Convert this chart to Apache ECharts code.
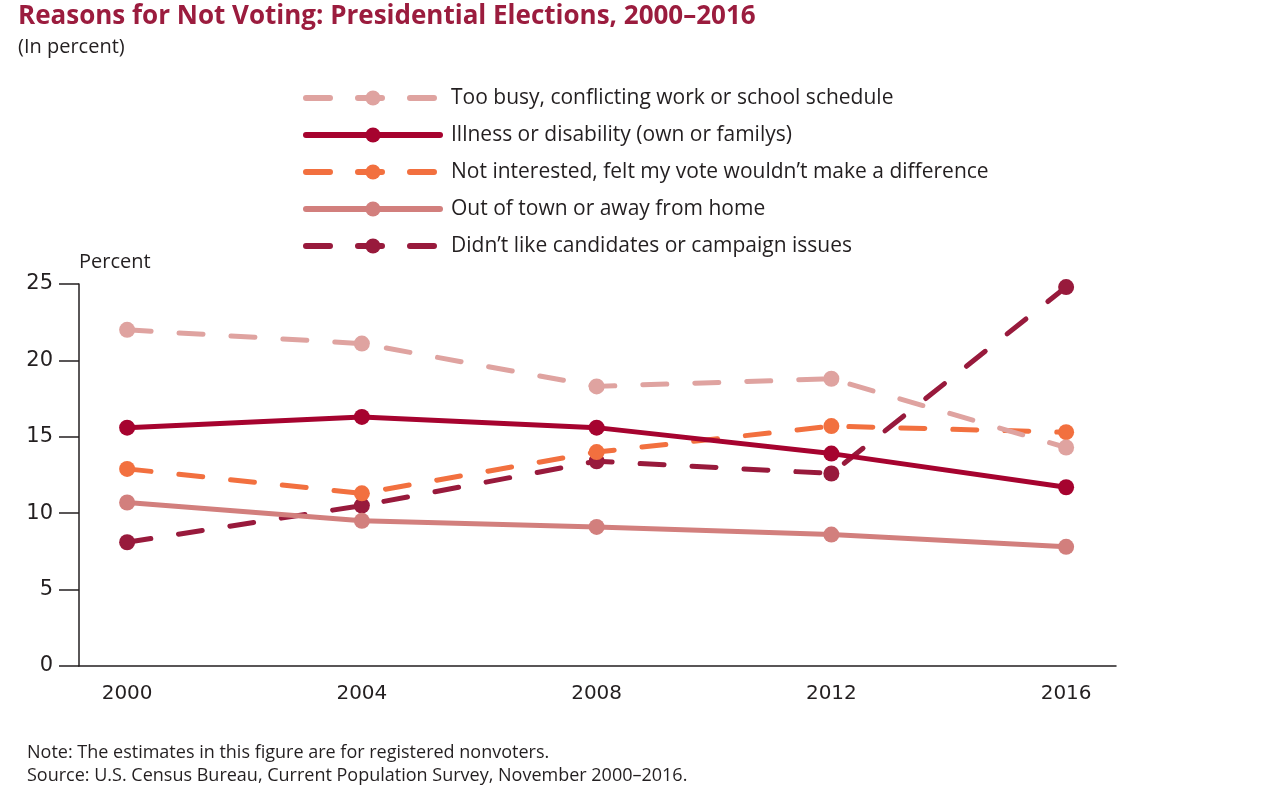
<!DOCTYPE html>
<html>
<head>
<meta charset="utf-8">
<script src="https://cdn.jsdelivr.net/npm/echarts@6/dist/echarts.min.js"></script>
<style>
  html, body { margin: 0; padding: 0; background: #fff; }
  #chart { width: 1263px; height: 803px; }
</style>
</head>
<body>
<div id="chart"></div>
<script>
// election years and the share of registered nonvoters giving each reason
var years = [2000, 2004, 2008, 2012, 2016];
var tooBusy = [22.0, 21.1, 18.3, 18.8, 14.3];
var illness = [15.6, 16.3, 15.6, 13.9, 11.7];
var notInterested = [12.9, 11.3, 14.0, 15.7, 15.3];
var outOfTown = [10.7, 9.5, 9.1, 8.6, 7.8];
var dislikedCandidates = [8.1, 10.5, 13.4, 12.6, 24.8];

var names = [
  'Too busy, conflicting work or school schedule',
  'Illness or disability (own or familys)',
  'Not interested, felt my vote wouldn\u2019t make a difference',
  'Out of town or away from home',
  'Didn\u2019t like candidates or campaign issues'
];
var colors = ['#dfa3a0', '#a6032f', '#f2703f', '#d27f7d', '#981a3c'];
var dashed = [true, false, true, false, true];
var values = [tooBusy, illness, notInterested, outOfTown, dislikedCandidates];

var font = '"Open Sans", sans-serif';
var numFont = '"DejaVu Sans", sans-serif';

var chart = echarts.init(document.getElementById('chart'));

var series = names.map(function (name, i) {
  return {
    name: name,
    type: 'line',
    data: years.map(function (y, j) { return [y, values[i][j]]; }),
    symbol: 'circle',
    symbolSize: 16,
    showAllSymbol: true,
    itemStyle: { color: colors[i] },
    lineStyle: {
      color: colors[i],
      width: 5,
      type: dashed[i] ? [24, 28] : 'solid',
      cap: 'round'
    },
    emphasis: { disabled: true },
    animation: false,
    z: 10 - i
  };
});

var option = {
  backgroundColor: '#fff',
  textStyle: { fontFamily: font },
  title: [{
    text: 'Reasons for Not Voting: Presidential Elections, 2000\u20132016',
    left: 13,
    top: -1,
    textStyle: { fontFamily: font, fontSize: 26, fontWeight: 'bold', color: '#9b1c3e' }
  }, {
    text: '(In percent)',
    left: 13,
    top: 32,
    textStyle: { fontFamily: font, fontSize: 20, fontWeight: 'normal', color: '#231f20' }
  }, {
    text: 'Note: The estimates in this figure are for registered nonvoters.\nSource: U.S. Census Bureau, Current Population Survey, November 2000\u20132016.',
    left: 22,
    top: 736,
    textStyle: { fontFamily: font, fontSize: 18, fontWeight: 'normal', color: '#231f20', lineHeight: 23 }
  }],
  legend: {
    orient: 'vertical',
    left: 298,
    top: 82,
    itemWidth: 134,
    itemHeight: 19,
    itemGap: 15,
    selectedMode: false,
    lineStyle: { width: 6, cap: 'round' },
    textStyle: { fontFamily: font, fontSize: 21, color: '#231f20', padding: [0, 0, 0, 6], lineHeight: 22 },
    data: names
  },
  grid: { left: 79, right: 147, top: 284, bottom: 137 },
  xAxis: {
    type: 'value',
    min: 1999.18,
    max: 2016.85,
    splitLine: { show: false },
    axisTick: { show: false },
    axisLine: { show: true, lineStyle: { color: '#231f20', width: 1.5 } },
    axisLabel: {
      customValues: years,
      margin: 18,
      fontFamily: numFont,
      fontSize: 20,
      color: '#231f20',
      formatter: function (v) { return String(v); }
    }
  },
  yAxis: {
    type: 'value',
    min: 0,
    max: 25,
    interval: 5,
    name: 'Percent',
    nameLocation: 'end',
    nameGap: 12,
    nameTextStyle: { fontFamily: font, fontSize: 20, color: '#231f20', align: 'left' },
    splitLine: { show: false },
    axisLine: { show: true, lineStyle: { color: '#231f20', width: 1.5 } },
    axisTick: { show: true, length: 20, lineStyle: { color: '#231f20', width: 1.5 } },
    axisLabel: { margin: 26, fontFamily: numFont, fontSize: 21, color: '#231f20' }
  },
  series: series
};

chart.setOption(option);
window.addEventListener('resize', function () {
  chart.resize();
});
</script>
</body>
</html>
